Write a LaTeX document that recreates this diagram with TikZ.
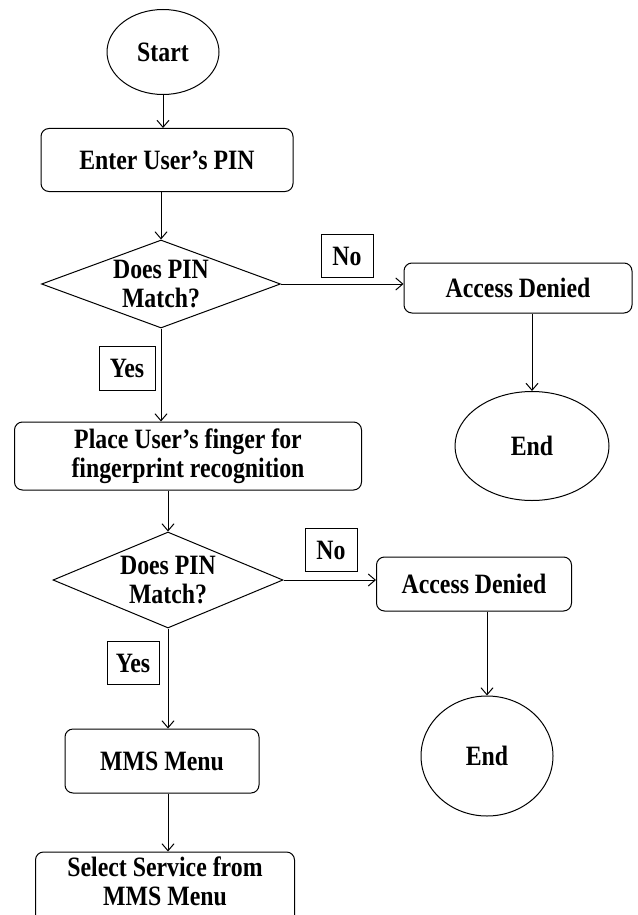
\documentclass[tikz,border=0pt]{standalone}
\usepackage{fontspec}
\setmainfont{Liberation Serif}[FakeStretch=0.85]
\usetikzlibrary{shapes.geometric,arrows.meta}

\begin{document}
\begin{tikzpicture}[x=1pt, y=-1pt, line width=1pt,
    font=\fontsize{28}{29}\selectfont\bfseries,
    every node/.style={align=center},
    term/.style={draw, ellipse, inner sep=0pt},
    proc/.style={draw, rounded corners=8pt, inner sep=0pt},
    decide/.style={draw, diamond, inner sep=0pt},
    tag/.style={draw, inner sep=0pt, minimum width=52pt, minimum height=43pt},
    flow/.style={-{Straight Barb[length=7pt,width=12pt]}}]
    \useasboundingbox (0,0) rectangle (637,915);

    % PIN check
    \node[term, minimum width=112pt, minimum height=85pt] (start) at (163,52) {Start};
    \node[proc, minimum width=252pt, minimum height=63pt] (enter) at (167,160) {Enter User’s PIN};
    \node[decide, aspect=2.66, minimum width=239pt, minimum height=88pt] (pin1) at (161,284) {Does PIN\\Match?};
    \node[tag] (no1) at (347,256) {No};
    \node[tag, minimum width=56pt, minimum height=44pt] (yes1) at (127,368) {Yes};
    \node[proc, minimum width=228pt, minimum height=50pt] (deny1) at (518,288) {Access Denied};
    \node[term, minimum width=154pt, minimum height=109pt] (end1) at (532,446) {End};

    % fingerprint check
    \node[proc, minimum width=347pt, minimum height=68pt] (place) at (188,456) {Place User’s finger for\\fingerprint recognition};
    \node[decide, aspect=2.4, minimum width=230pt, minimum height=96pt] (pin2) at (168,580) {Does PIN\\Match?};
    \node[tag] (no2) at (331,550) {No};
    \node[tag] (yes2) at (133,663) {Yes};
    \node[proc, minimum width=195pt, minimum height=54pt] (deny2) at (474,584) {Access Denied};
    \node[term, minimum width=132pt, minimum height=120pt] (end2) at (487,756) {End};

    % menu
    \node[proc, minimum width=194pt, minimum height=64pt] (menu) at (162,761) {MMS Menu};
    \node[proc, minimum width=259pt, minimum height=72pt, text depth=14pt] (select) at (165,888) {Select Service from\\MMS Menu};

    % arrows
    \draw[flow] (start.south) -- (start.south |- enter.north);
    \draw[flow] (enter.south -| pin1.north) -- (pin1.north);
    \draw[flow] (pin1.east) -- (pin1.east -| deny1.west);
    \draw[flow] (end1.north |- deny1.south) -- (end1.north);
    \draw[flow] (pin1.south) -- (pin1.south |- place.north);
    \draw[flow] (pin2.north |- place.south) -- (pin2.north);
    \draw[flow] (pin2.east) -- (pin2.east -| deny2.west);
    \draw[flow] (deny2.south -| end2.north) -- (end2.north);
    \draw[flow] (pin2.south) -- (pin2.south |- menu.north);
    \draw[flow] (pin2.south |- menu.south) -- (pin2.south |- select.north);
\end{tikzpicture}
\end{document}
